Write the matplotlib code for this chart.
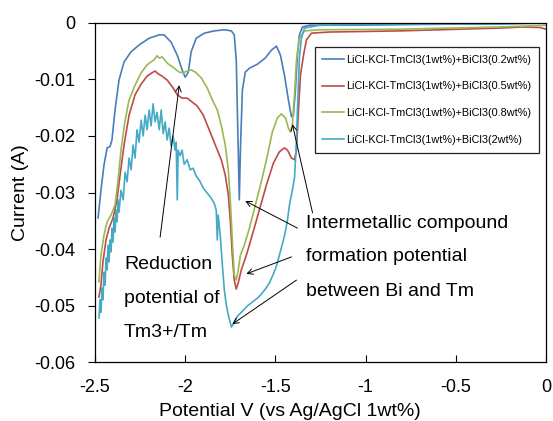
import matplotlib
matplotlib.use("Agg")
import matplotlib.pyplot as plt
from matplotlib.ticker import FuncFormatter

plt.rcParams['font.family'] = ['Liberation Sans', 'DejaVu Sans']
plt.rcParams['axes.unicode_minus'] = False

# potential (V) / current (A)
blue_v = [-2.483, -2.467, -2.450, -2.433, -2.417, -2.406, -2.389, -2.367, -2.339, -2.300,
          -2.256, -2.200, -2.144, -2.117, -2.078, -2.044, -2.017, -2.000, -1.983, -1.967,
          -1.939, -1.894, -1.839, -1.783, -1.744, -1.728, -1.717, -1.706, -1.700, -1.694,
          -1.683, -1.667, -1.644, -1.600, -1.556, -1.522, -1.494, -1.472, -1.450, -1.428,
          -1.411, -1.400, -1.389, -1.378, -1.367, -1.350, -1.311, -1.089, -0.533, -0.089, 0.0]
blue_a = [-0.0345, -0.0296, -0.0251, -0.0221, -0.0219, -0.0207, -0.0154, -0.0101, -0.0069, -0.0051,
          -0.0039, -0.0027, -0.0021, -0.0021, -0.0034, -0.0057, -0.0083, -0.0096, -0.0087, -0.0051,
          -0.0027, -0.0018, -0.0014, -0.0012, -0.0014, -0.0021, -0.0065, -0.0225, -0.0313, -0.0225,
          -0.0119, -0.0087, -0.0080, -0.0073, -0.0062, -0.0048, -0.0041, -0.0057, -0.0092, -0.0136,
          -0.0166, -0.0163, -0.0119, -0.0057, -0.0021, -0.0007, -0.0004, -0.0004, -0.0002, 0.0, 0.0]

red_v = [-2.478, -2.467, -2.456, -2.439, -2.422, -2.400, -2.378, -2.361, -2.339, -2.311,
         -2.278, -2.244, -2.211, -2.183, -2.167, -2.150, -2.128, -2.100, -2.067, -2.044,
         -2.017, -1.989, -1.961, -1.933, -1.900, -1.867, -1.833, -1.800, -1.778, -1.761,
         -1.750, -1.739, -1.728, -1.717, -1.706, -1.689, -1.661, -1.628, -1.589, -1.550,
         -1.511, -1.478, -1.450, -1.433, -1.411, -1.394, -1.383, -1.372, -1.361, -1.344,
         -1.328, -1.300, -1.200, -0.811, -0.256, -0.128, -0.033, 0.0]
red_a = [-0.0485, -0.0464, -0.0423, -0.0384, -0.0363, -0.0345, -0.0313, -0.0269, -0.0216, -0.0163,
         -0.0127, -0.0108, -0.0094, -0.0088, -0.0085, -0.0090, -0.0094, -0.0101, -0.0115, -0.0127,
         -0.0133, -0.0133, -0.0140, -0.0147, -0.0163, -0.0189, -0.0216, -0.0242, -0.0269, -0.0304,
         -0.0349, -0.0411, -0.0455, -0.0471, -0.0460, -0.0437, -0.0411, -0.0375, -0.0331, -0.0287,
         -0.0248, -0.0228, -0.0221, -0.0225, -0.0239, -0.0242, -0.0225, -0.0154, -0.0092, -0.0057,
         -0.0030, -0.0018, -0.0016, -0.0014, -0.0009, -0.0007, -0.0008, -0.0011]

green_v = [-2.478, -2.467, -2.450, -2.433, -2.411, -2.389, -2.372, -2.356, -2.333, -2.311,
           -2.278, -2.244, -2.211, -2.172, -2.156, -2.144, -2.128, -2.100, -2.061, -2.033,
           -2.011, -1.989, -1.967, -1.944, -1.911, -1.878, -1.850, -1.822, -1.800, -1.778,
           -1.761, -1.750, -1.739, -1.728, -1.717, -1.706, -1.694, -1.672, -1.644, -1.611,
           -1.578, -1.544, -1.517, -1.489, -1.467, -1.444, -1.428, -1.417, -1.406, -1.394,
           -1.383, -1.367, -1.339, -1.256, -0.811, -0.256, 0.0]
green_a = [-0.0458, -0.0411, -0.0375, -0.0352, -0.0340, -0.0322, -0.0278, -0.0225, -0.0172, -0.0136,
           -0.0110, -0.0088, -0.0074, -0.0065, -0.0058, -0.0062, -0.0060, -0.0071, -0.0080, -0.0087,
           -0.0088, -0.0085, -0.0083, -0.0087, -0.0097, -0.0115, -0.0136, -0.0154, -0.0181, -0.0216,
           -0.0260, -0.0313, -0.0384, -0.0446, -0.0455, -0.0437, -0.0411, -0.0393, -0.0363, -0.0322,
           -0.0281, -0.0234, -0.0193, -0.0168, -0.0161, -0.0168, -0.0186, -0.0193, -0.0181, -0.0127,
           -0.0065, -0.0027, -0.0014, -0.0012, -0.0011, -0.0007, -0.0004]

cyan_v = [-2.478, -2.472, -2.467, -2.461, -2.456, -2.450, -2.444, -2.439, -2.433, -2.428,
          -2.422, -2.417, -2.411, -2.406, -2.400, -2.394, -2.389, -2.383, -2.378, -2.372,
          -2.367, -2.356, -2.344, -2.333, -2.322, -2.311, -2.300, -2.289, -2.278, -2.267,
          -2.256, -2.244, -2.233, -2.222, -2.211, -2.200, -2.189, -2.178, -2.167, -2.156,
          -2.144, -2.133, -2.122, -2.111, -2.100, -2.089, -2.078, -2.067, -2.056, -2.050,
          -2.044, -2.039, -2.028, -2.017, -2.006, -1.989, -1.972, -1.956, -1.939, -1.922,
          -1.900, -1.878, -1.856, -1.839, -1.828, -1.822, -1.817, -1.806, -1.794, -1.783,
          -1.772, -1.761, -1.750, -1.744, -1.733, -1.711, -1.683, -1.656, -1.628, -1.600,
          -1.578, -1.556, -1.533, -1.511, -1.494, -1.478, -1.467, -1.450, -1.433, -1.422,
          -1.406, -1.394, -1.383, -1.378, -1.372, -1.367, -1.356, -1.339, -1.256, -0.811,
          -0.256, 0.0]
cyan_a = [-0.0522, -0.0490, -0.0512, -0.0469, -0.0490, -0.0441, -0.0464, -0.0416, -0.0437, -0.0393,
          -0.0423, -0.0384, -0.0405, -0.0363, -0.0388, -0.0345, -0.0370, -0.0331, -0.0352, -0.0313,
          -0.0335, -0.0296, -0.0313, -0.0264, -0.0281, -0.0239, -0.0260, -0.0216, -0.0239, -0.0189,
          -0.0211, -0.0172, -0.0200, -0.0163, -0.0189, -0.0154, -0.0182, -0.0143, -0.0175, -0.0158,
          -0.0189, -0.0154, -0.0196, -0.0175, -0.0207, -0.0186, -0.0218, -0.0200, -0.0225, -0.0211,
          -0.0313, -0.0225, -0.0235, -0.0225, -0.0250, -0.0242, -0.0260, -0.0257, -0.0271, -0.0278,
          -0.0292, -0.0301, -0.0310, -0.0319, -0.0331, -0.0384, -0.0340, -0.0375, -0.0428, -0.0473,
          -0.0499, -0.0517, -0.0531, -0.0538, -0.0533, -0.0519, -0.0510, -0.0501, -0.0494, -0.0487,
          -0.0480, -0.0471, -0.0460, -0.0444, -0.0430, -0.0411, -0.0398, -0.0377, -0.0349, -0.0322,
          -0.0296, -0.0274, -0.0207, -0.0154, -0.0104, -0.0062, -0.0027, -0.0009, -0.0004, -0.0002,
          -0.0002, 0.0]

series = [
    (blue_v, blue_a, "LiCl-KCl-TmCl3(1wt%)+BiCl3(0.2wt%)", "#4a7ebb"),
    (red_v, red_a, "LiCl-KCl-TmCl3(1wt%)+BiCl3(0.5wt%)", "#be4b48"),
    (green_v, green_a, "LiCl-KCl-TmCl3(1wt%)+BiCl3(0.8wt%)", "#98b954"),
    (cyan_v, cyan_a, "LiCl-KCl-TmCl3(1wt%)+BiCl3(2wt%)", "#46aac5"),
]

x_ticks = [-2.5, -2, -1.5, -1, -0.5, 0]
y_ticks = [0, -0.01, -0.02, -0.03, -0.04, -0.05, -0.06]

fig = plt.figure(figsize=(5.53, 4.21), dpi=100)
ax = fig.add_axes([0.1718, 0.1401, 0.8155, 0.8053])

for v, a, label, color in series:
    ax.plot(v, a, color=color, lw=1.2, label=label)

ax.set_xlim(-2.5, 0)
ax.set_ylim(-0.06, 0)
ax.set_xticks(x_ticks)
ax.set_yticks(y_ticks)
ax.xaxis.set_major_formatter(FuncFormatter(lambda v, p: "%g" % v))
ax.yaxis.set_major_formatter(FuncFormatter(lambda v, p: "%g" % v))
ax.tick_params(axis='x', direction='in', length=5, width=0.8, pad=12, labelsize=13)
ax.tick_params(axis='y', direction='out', length=5, width=0.8, pad=9, labelsize=13)
for s in ax.spines.values():
    s.set_linewidth(0.9)

ax.set_xlabel("Potential V (vs Ag/AgCl 1wt%)", fontsize=14)
ax.set_ylabel("Current (A)", fontsize=14)
ax.xaxis.set_label_coords(0.432, -0.147)
ax.xaxis.label.set_va('center')
ax.yaxis.set_label_coords(-0.165, 0.5)
ax.yaxis.label.set_va('center')

leg = ax.legend(loc='upper right', bbox_to_anchor=(0.984, 0.929), fontsize=7.8,
                frameon=True, fancybox=False, edgecolor='#222222', framealpha=1,
                handlelength=2.0, handletextpad=0.2, labelspacing=1.55, borderpad=0.7,
                borderaxespad=0)
leg.get_frame().set_linewidth(0.9)

arrow = dict(arrowstyle='->', color='black', lw=0.7, shrinkA=0, shrinkB=0)
ax.annotate("", xy=(-2.033, -0.0110), xytext=(-2.139, -0.0379), arrowprops=arrow)
ax.annotate("", xy=(-1.667, -0.0315), xytext=(-1.378, -0.0363), arrowprops=arrow)
ax.annotate("", xy=(-1.661, -0.0444), xytext=(-1.411, -0.0414), arrowprops=arrow)
ax.annotate("", xy=(-1.739, -0.0533), xytext=(-1.383, -0.0455), arrowprops=arrow)
ax.annotate("", xy=(-1.406, -0.0179), xytext=(-1.294, -0.0336), arrowprops=arrow)

for txt, y in [("Reduction", -0.0428), ("potential of", -0.0487), ("Tm3+/Tm", -0.0547)]:
    ax.text(-2.339, y, txt, fontsize=14, va='center', ha='left')
for txt, y in [("Intermetallic compound", -0.0354), ("formation potential", -0.0414),
               ("between Bi and Tm", -0.0476)]:
    ax.text(-1.328, y, txt, fontsize=14, va='center', ha='left')

plt.savefig("out.png", dpi=100)
